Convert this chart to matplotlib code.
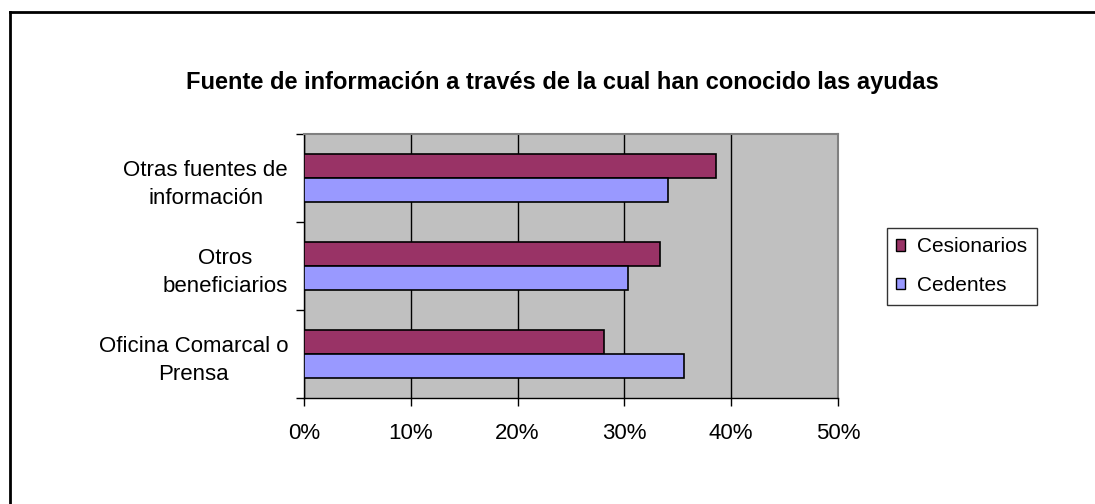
import matplotlib
matplotlib.use("Agg")
import matplotlib.pyplot as plt
from matplotlib.lines import Line2D
from matplotlib.patches import Patch
import numpy as np

plt.rcParams['font.family'] = ['Liberation Sans', 'DejaVu Sans']

categories = ["Oficina Comarcal o\nPrensa", "Otros\nbeneficiarios", "Otras fuentes de\ninformación"]
cesionarios = [28.1, 33.3, 38.6]
cedentes = [35.6, 30.3, 34.1]
xticks = [0, 10, 20, 30, 40, 50]
xticklabels = ["0%", "10%", "20%", "30%", "40%", "50%"]
title = "Fuente de información a través de la cual han conocido las ayudas"
series_names = ["Cesionarios", "Cedentes"]

c_ces = "#993366"
c_ced = "#9999FF"

fig = plt.figure(figsize=(10.95, 5.04), dpi=100)
ax = fig.add_axes([304/1095, 106/504, 534/1095, 264/504])
ax.set_facecolor("#C0C0C0")

y = np.arange(len(categories))
h = 0.275
ax.barh(y + h/2, cesionarios, height=h, color=c_ces, edgecolor="black", linewidth=1.2, zorder=3)
ax.barh(y - h/2, cedentes, height=h, color=c_ced, edgecolor="black", linewidth=1.2, zorder=3)

ax.set_xlim(0, 50)
ax.set_ylim(-0.5, 2.5)
ax.set_xticks(xticks)
ax.set_xticklabels(xticklabels, fontsize=16)
ax.xaxis.grid(True, color="black", linewidth=1, zorder=1)
ax.set_axisbelow(True)

# y ticks at category boundaries, labels at centres
ax.set_yticks([-0.5, 0.5, 1.5, 2.5])
ax.set_yticklabels([])
ax.set_yticks(y, minor=True)
ax.set_yticklabels(categories, minor=True, fontsize=16, ha="right",
                   multialignment="center", linespacing=1.45)
ax.tick_params(axis="y", which="minor", length=0, pad=11.5)
ax.tick_params(axis="y", which="major", length=6, width=1, direction="out")
ax.tick_params(axis="x", length=6, width=1, direction="out", pad=12)

for s in ["top", "right"]:
    ax.spines[s].set_color("#808080")
    ax.spines[s].set_linewidth(1.5)
for s in ["left", "bottom"]:
    ax.spines[s].set_color("black")
    ax.spines[s].set_linewidth(1)

fig.text(562/1095, 1 - 83/504, title, fontsize=17, fontweight="bold", ha="center", va="center")

handles = [Patch(facecolor=c_ces, edgecolor="black"), Patch(facecolor=c_ced, edgecolor="black")]
leg = fig.legend(handles, series_names, loc="upper left",
                 bbox_to_anchor=(887/1095, 1 - 228/504), fontsize=15,
                 frameon=True, fancybox=False, edgecolor="black",
                 handlelength=0.4, handleheight=0.45, handletextpad=0.6,
                 labelspacing=0.95, borderpad=0.45, borderaxespad=0)
leg.get_frame().set_linewidth(1)

# outer frame (top and left visible)
fig.add_artist(Line2D([10/1095, 1], [1 - 12/504, 1 - 12/504], color="black", linewidth=2, transform=fig.transFigure))
fig.add_artist(Line2D([10/1095, 10/1095], [0, 1 - 12/504], color="black", linewidth=2, transform=fig.transFigure))

fig.savefig("out.png", dpi=100)
